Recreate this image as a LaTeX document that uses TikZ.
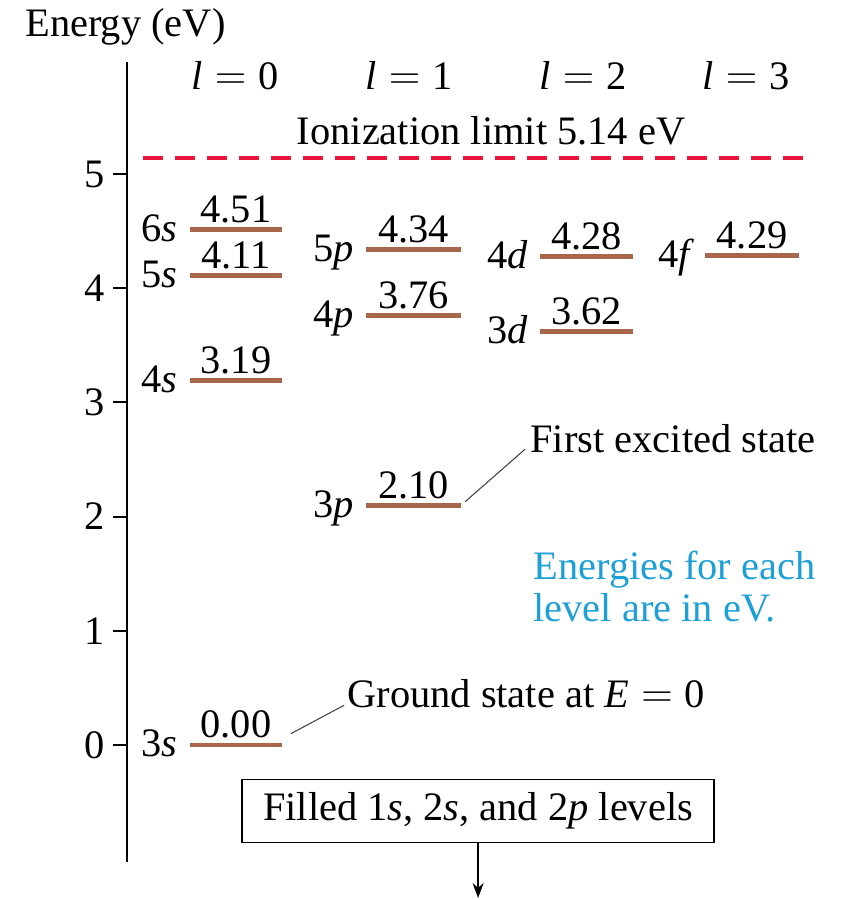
\documentclass[tikz,border=0pt]{standalone}
\usepackage{fontspec}
\setmainfont{Liberation Serif}
\usetikzlibrary{arrows.meta}
\definecolor{levelbrown}{RGB}{168,102,74}
\definecolor{limitred}{RGB}{232,22,60}
\definecolor{notecyan}{RGB}{30,160,214}
\tikzset{
  level/.style={line width=2.8pt, levelbrown},
  orb/.style={anchor=base east, inner sep=0pt, text=black, xshift=-0.2cm, yshift=-0.24cm},
  val/.style={anchor=base, inner sep=0pt, text=black, yshift=0.14cm},
  lbl/.style={inner sep=0pt},
  leader/.style={line width=0.6pt, black!75},
}
\begin{document}
\begin{tikzpicture}[x=0.02cm,y=2.284cm,font=\fontsize{23}{26}\selectfont]
  \useasboundingbox (0,-1.3573) rectangle (846,6.5236);
  % energy axis with ticks
  \node[lbl,anchor=base west] (elabel) at (25,6.20) {Energy (eV)};
  \draw[line width=1.1pt] (127,5.98) -- (127,-1.025);
  \foreach \k in {0,...,5} {
    \draw[line width=1.1pt] (113,\k) -- (127,\k);
    \node[lbl,anchor=east] (t\k) at (105,\k) {\k};
  }
  % column heads
  \node[lbl,anchor=base] (h0) at (235,5.736) {\textit{l}$\;=\;$0};
  \node[lbl,anchor=base] (h1) at (409,5.736) {\textit{l}$\;=\;$1};
  \node[lbl,anchor=base] (h2) at (583,5.736) {\textit{l}$\;=\;$2};
  \node[lbl,anchor=base] (h3) at (746,5.736) {\textit{l}$\;=\;$3};
  % ionization limit
  \node[lbl,anchor=base] (ion) at (491,5.254) {Ionization limit 5.14 eV};
  \draw[limitred, line width=2.5pt, dash pattern=on 0.4cm off 0.24cm] (143,5.14) -- (808,5.14);
  % l = 0
  \draw[level] (190,4.51) node[orb] (o6s) {6\textit{s}} -- (282,4.51) coordinate (s6b) node[midway,val] (v6s) {4.51};
  \draw[level] (190,4.11) node[orb] (o5s) {5\textit{s}} -- (282,4.11) coordinate (s5b) node[midway,val] (v5s) {4.11};
  \draw[level] (190,3.19) node[orb] (o4s) {4\textit{s}} -- (282,3.19) coordinate (s4b) node[midway,val] (v4s) {3.19};
  \draw[level] (190,0) node[orb] (o3s) {3\textit{s}} -- (282,0) coordinate (s3b) node[midway,val] (v3s) {0.00};
  % l = 1
  \draw[level] (366,4.34) node[orb] (o5p) {5\textit{p}} -- (461,4.34) coordinate (p5b) node[midway,val] (v5p) {4.34};
  \draw[level] (366,3.76) node[orb] (o4p) {4\textit{p}} -- (461,3.76) coordinate (p4b) node[midway,val] (v4p) {3.76};
  \draw[level] (366,2.10) node[orb] (o3p) {3\textit{p}} -- (461,2.10) coordinate (p3b) node[midway,val] (v3p) {2.10};
  % l = 2
  \draw[level] (540,4.28) node[orb] (o4d) {4\textit{d}} -- (633,4.28) coordinate (d4b) node[midway,val] (v4d) {4.28};
  \draw[level] (540,3.62) node[orb] (o3d) {3\textit{d}} -- (633,3.62) coordinate (d3b) node[midway,val] (v3d) {3.62};
  % l = 3
  \draw[level] (705,4.29) node[orb,xshift=0.04cm] (o4f) {4\textit{f}} -- (799,4.29) coordinate (f4b) node[midway,val] (v4f) {4.29};
  % callouts
  \node[lbl,anchor=base west] (fes) at (530,2.557) {First excited state};
  \draw[leader] ([shift={(4,0.03)}]p3b) -- ([shift={(-5,0.04)}]fes.south west);
  \node[lbl,anchor=base west] (gnd) at (347,0.324) {Ground state at \textit{E}$\;=\;$0};
  \draw[leader] ([shift={(9,0.1)}]s3b) -- ([shift={(-3,0.03)}]gnd.south west);
  \node[lbl,anchor=north west,align=left,text=notecyan,font=\fontsize{23}{24}\selectfont] (note) at (533,1.699) {Energies for each\\level are in eV.};
  % filled inner shells
  \node[draw,line width=0.8pt,inner xsep=0.42cm,inner ysep=0.26cm] (filled) at (478,-0.578) {Filled 1\textit{s}, 2\textit{s}, and 2\textit{p} levels};
  \coordinate (down) at (478,-1.34);
  \draw[-{Stealth[length=0.3cm,width=0.22cm]}, line width=0.8pt] (filled) -- (down);
\end{tikzpicture}
\end{document}
